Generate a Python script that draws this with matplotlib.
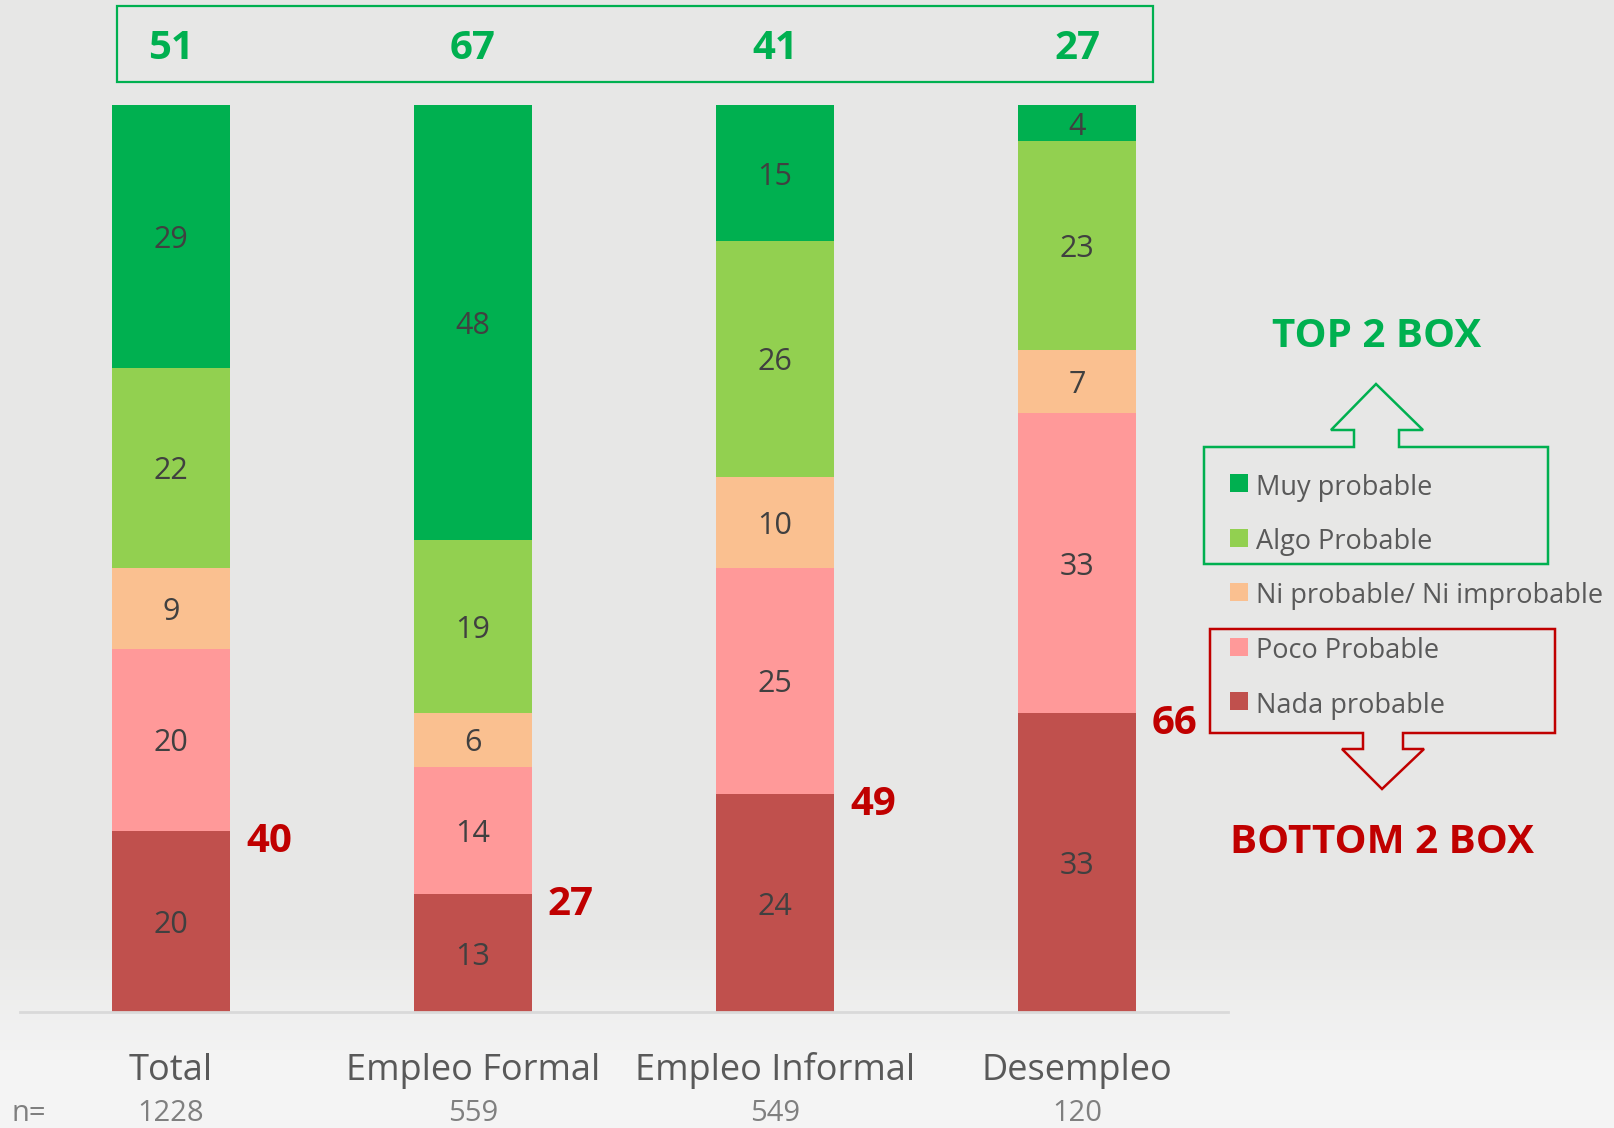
import numpy as np
import matplotlib
matplotlib.use("Agg")
import matplotlib.pyplot as plt
from matplotlib.patches import Polygon, Rectangle
from matplotlib.transforms import blended_transform_factory

plt.rcParams['font.family'] = ['Open Sans', 'DejaVu Sans']

# ---------------- data ----------------
categories = ["Total", "Empleo Formal", "Empleo Informal", "Desempleo"]
sample_n = ["1228", "559", "549", "120"]
series_names = ["Nada probable", "Poco Probable", "Ni probable/ Ni improbable",
                "Algo Probable", "Muy probable"]
nada = [20, 13, 24, 33]
poco = [20, 14, 25, 33]
ni = [9, 6, 10, 7]
algo = [22, 19, 26, 23]
muy = [29, 48, 15, 4]
top2 = [51, 67, 41, 27]
bottom2 = [40, 27, 49, 66]

colors = ["#C0504D", "#FF9999", "#FAC090", "#92D050", "#00B050"]
series = [nada, poco, ni, algo, muy]

W, H = 1614, 1128
fig = plt.figure(figsize=(W / 100, H / 100), dpi=100)

# background gradient
bg = fig.add_axes([0, 0, 1, 1])
bg.set_xlim(0, W)
bg.set_ylim(H, 0)
bg.axis('off')
ys = np.arange(H)
top_c = np.array([0xE7, 0xE7, 0xE6]) / 255
bot_c = np.array([0xF4, 0xF4, 0xF4]) / 255
t = np.clip((ys - 930) / 130.0, 0, 1)
grad = top_c[None, :] * (1 - t[:, None]) + bot_c[None, :] * t[:, None]
img = np.repeat(grad[:, None, :], 4, axis=1)
bg.imshow(img, extent=[0, W, H, 0], aspect='auto', zorder=0)

# bar axes
ax = fig.add_axes([20 / W, (H - 1012) / H, 1208 / W, 907 / H])
ax.patch.set_alpha(0)
x = np.arange(len(categories))
bw = 0.39
bottom = np.zeros(len(categories))
for vals, col, name in zip(series, colors, series_names):
    vals = np.array(vals)
    ax.bar(x, vals, bw, bottom=bottom, color=col, label=name, zorder=2)
    for xi, b, v in zip(x, bottom, vals):
        ax.text(xi, b + v / 2, f"{v}", ha='center', va='center_baseline',
                fontsize=22, color="#404040", zorder=3)
    bottom += vals

ax.set_xlim(-0.5, 3.5)
ax.set_ylim(0, 100)
for s in ['top', 'right', 'left']:
    ax.spines[s].set_visible(False)
ax.spines['bottom'].set_color('#D9D9D9')
ax.spines['bottom'].set_linewidth(2)
ax.set_yticks([])
ax.set_xticks(x)
ax.set_xticklabels([])
ax.tick_params(axis='x', length=0)

trans_xfig = blended_transform_factory(ax.transData, fig.transFigure)

# category labels and n
for xi, cat, n in zip(x, categories, sample_n):
    ax.text(xi, 1 - 1080 / H, cat, transform=trans_xfig, ha='center',
            va='baseline', fontsize=26, color='#595959')
    ax.text(xi, 1 - 1121 / H, n, transform=trans_xfig, ha='center',
            va='baseline', fontsize=21, color='#7F7F7F')
fig.text(12 / W, 1 - 1121 / H, "n=", ha='left', va='baseline',
         fontsize=21, color='#7F7F7F')

# top 2 box values
for xi, v in zip(x, top2):
    ax.text(xi, 1 - 44 / H, f"{v}", transform=trans_xfig, ha='center',
            va='center_baseline', fontsize=29, fontweight='bold', color='#00B050')
bg.add_patch(Rectangle((117, 6), 1153 - 117, 82 - 6, fill=False,
                       edgecolor='#00B050', linewidth=1.6, zorder=3))

# bottom 2 box values
for xi, v, nd in zip(x, bottom2, nada):
    ax.annotate(f"{v}", xy=(xi + bw / 2, nd), xytext=(16, -6),
                textcoords='offset pixels', ha='left', va='center_baseline',
                fontsize=29, fontweight='bold', color='#C00000', zorder=4)

# legend (custom)
leg_rows_y = [483, 538, 592, 647, 701]
leg_order = [4, 3, 2, 1, 0]
for yy, idx in zip(leg_rows_y, leg_order):
    bg.add_patch(Rectangle((1230, yy - 9), 18, 18, facecolor=colors[idx],
                           edgecolor='none', zorder=3))
    bg.text(1256, yy + 1, series_names[idx], ha='left', va='center_baseline',
            fontsize=19.5, color='#595959', zorder=3)

# green box with up arrow
green_pts = [(1204, 564), (1204, 447), (1354, 447), (1354, 430), (1331, 430),
             (1376, 384), (1423, 430), (1399, 430), (1399, 447), (1548, 447),
             (1548, 564)]
bg.add_patch(Polygon(green_pts, closed=True, fill=False, edgecolor='#00B050',
                     linewidth=1.8, joinstyle='miter', zorder=3))
# red box with down arrow
red_pts = [(1210, 629), (1210, 733), (1363, 733), (1363, 749), (1342, 749),
           (1382, 789), (1424, 749), (1403, 749), (1403, 733), (1555, 733),
           (1555, 629)]
bg.add_patch(Polygon(red_pts, closed=True, fill=False, edgecolor='#C00000',
                     linewidth=1.8, joinstyle='miter', zorder=3))

bg.text(1377, 332, "TOP 2 BOX", ha='center', va='center_baseline', fontsize=29,
        fontweight='bold', color='#00B050', zorder=3)
bg.text(1382, 838, "BOTTOM 2 BOX", ha='center', va='center_baseline', fontsize=29,
        fontweight='bold', color='#C00000', zorder=3)

fig.savefig("out.png", dpi=100)
